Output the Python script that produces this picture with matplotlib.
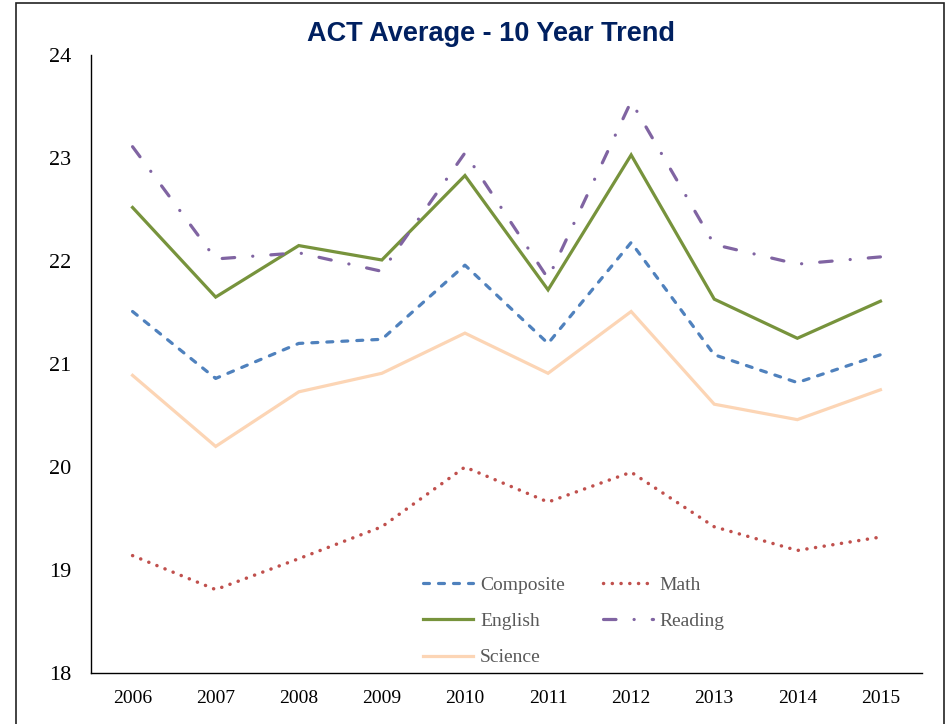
import numpy as np
import matplotlib
matplotlib.use('Agg')
import matplotlib.pyplot as plt
from matplotlib.patches import Rectangle

# ACT average scores
years = ['2006', '2007', '2008', '2009', '2010', '2011', '2012', '2013', '2014', '2015']
composite = [21.51, 20.86, 21.20, 21.24, 21.96, 21.20, 22.18, 21.09, 20.82, 21.09]
math = [19.14, 18.81, 19.11, 19.42, 20.00, 19.66, 19.95, 19.42, 19.19, 19.32]
english = [22.52, 21.65, 22.15, 22.01, 22.83, 21.72, 23.03, 21.63, 21.25, 21.61]
reading = [23.11, 22.02, 22.08, 21.90, 23.05, 21.83, 23.55, 22.16, 21.97, 22.04]
science = [20.89, 20.20, 20.73, 20.91, 21.30, 20.91, 21.51, 20.61, 20.46, 20.75]

plt.rcParams['lines.scale_dashes'] = False
serif = 'Liberation Serif'

fig = plt.figure(figsize=(9.51, 7.24), dpi=100)
ax = fig.add_axes([0.0957, 0.0704, 0.8738, 0.8536])

x = np.arange(len(years))
lw = 2.3
l_comp, = ax.plot(x, composite, color='#4F81BD', lw=lw, dashes=(4.3, 6.5),
                  dash_capstyle='round', label='Composite')
l_math, = ax.plot(x, math, color='#C0504D', lw=2.5, dashes=(0.1, 6.2),
                  dash_capstyle='round', label='Math')
l_eng, = ax.plot(x, english, color='#77933C', lw=lw, solid_joinstyle='miter', label='English')
l_read, = ax.plot(x, reading, color='#8064A2', lw=lw, dashes=(9, 13, 0.1, 13),
                  dash_capstyle='round', label='Reading')
l_sci, = ax.plot(x, science, color='#FCD5B5', lw=lw, solid_joinstyle='miter', label='Science')

ax.set_xlim(-0.5, len(years) - 0.5)
ax.set_ylim(18, 24)
ax.set_xticks(x)
ax.set_xticklabels(years)
ax.set_yticks(range(18, 25))

for s in ['top', 'right']:
    ax.spines[s].set_visible(False)
for s in ['left', 'bottom']:
    ax.spines[s].set_linewidth(1.0)
    ax.spines[s].set_color('black')

ax.tick_params(axis='y', length=0, pad=14, labelsize=16)
ax.tick_params(axis='x', length=0, pad=12, labelsize=14)
for lab in ax.get_xticklabels() + ax.get_yticklabels():
    lab.set_fontfamily(serif)

fig.text(0.516, 0.953, 'ACT Average - 10 Year Trend', ha='center', va='center',
         fontsize=19.5, fontweight='bold', color='#002060', family='Liberation Sans')

# legend is filled column by column, so order handles to read row-wise
handles = [l_comp, l_eng, l_sci, l_math, l_read]
leg = fig.legend(handles, [h.get_label() for h in handles],
                 loc='upper left', bbox_to_anchor=(0.445, 0.204), ncol=2,
                 frameon=False, borderaxespad=0, borderpad=0,
                 handlelength=2.57, handletextpad=0.36, columnspacing=1.95,
                 labelspacing=0.96, prop={'family': serif, 'size': 14})
for t in leg.get_texts():
    t.set_color('#595959')

# outer frame around the chart
fig.patches.append(Rectangle((16 / 951, -0.02), 928 / 951, 1 - 3 / 724 + 0.02,
                             transform=fig.transFigure, fill=False,
                             edgecolor='#222222', lw=1.2, clip_on=False))

fig.savefig('out.png', dpi=100)
